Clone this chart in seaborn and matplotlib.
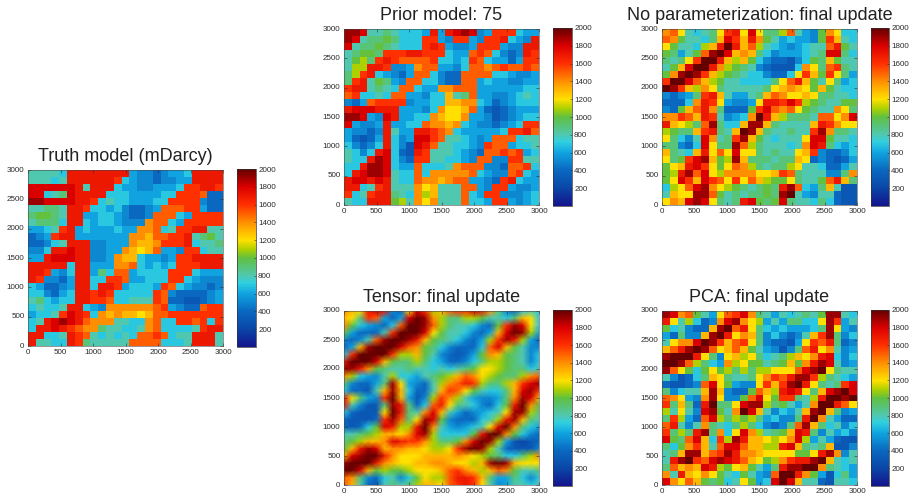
import numpy as np
import pandas as pd
import matplotlib
matplotlib.use("Agg")
import matplotlib.pyplot as plt
from matplotlib.colors import LinearSegmentedColormap
import seaborn as sns

plt.rcParams['font.family'] = ['Liberation Sans', 'DejaVu Sans']

# values in hundreds of mDarcy, top row is y=3000, steps of 125 m
truth = [
[8,8,8,8,7,17,17,17,17,17,17,17,17,6,5,5,4,5,6,6,7,17,17,17,17],
[8,8,8,7,8,17,17,17,17,17,17,16,7,6,5,5,4,5,5,6,6,17,17,17,17],
[18,18,18,18,18,18,17,8,17,17,17,7,6,6,5,5,6,6,6,7,16,16,17,17,16],
[18,18,7,8,9,18,17,17,17,17,7,7,7,6,6,6,6,7,7,16,16,16,15,4,4],
[19,19,18,18,18,18,17,17,16,7,8,7,7,6,6,6,7,7,16,16,16,16,5,4,4],
[8,8,9,9,8,17,17,16,7,7,6,7,5,4,4,5,6,15,15,15,16,16,6,4,4],
[9,10,10,9,8,17,17,6,6,7,7,6,5,4,4,5,15,15,15,7,6,16,16,16,16],
[8,9,9,9,7,17,17,7,6,7,7,6,5,5,5,14,15,15,7,6,16,16,16,16,16],
[6,6,7,8,16,17,6,7,6,6,6,7,6,6,14,14,15,7,8,16,16,17,17,8,8],
[4,5,6,16,17,17,6,6,6,6,6,6,6,14,14,13,15,15,16,16,17,8,9,10,8],
[4,4,5,7,8,17,17,17,5,5,6,6,6,14,13,13,14,16,16,16,17,7,8,8,9],
[5,5,7,17,17,18,17,17,5,5,6,6,14,13,12,13,15,6,6,5,16,16,7,8,8],
[6,6,17,18,18,18,17,17,5,5,6,14,13,13,7,6,6,5,6,16,16,17,17,17,17],
[17,17,17,17,17,7,17,17,6,6,6,14,14,15,7,6,7,6,7,16,16,16,17,17,17],
[17,17,16,6,5,7,17,17,6,9,7,15,15,6,7,7,7,7,16,16,16,7,6,6,6],
[17,16,5,5,4,6,17,17,7,7,16,16,15,6,6,7,7,7,16,16,7,6,5,5,5],
[7,6,4,4,5,6,17,17,7,17,17,16,6,7,7,7,6,16,15,7,6,5,5,4,5],
[7,7,5,4,6,7,17,17,16,17,16,7,7,7,7,7,16,15,5,4,4,4,4,5,6],
[8,9,7,6,7,7,17,17,16,16,15,7,7,8,8,8,16,15,4,4,3,3,4,5,6],
[7,8,7,7,8,17,17,7,6,5,14,14,14,14,14,14,15,16,6,5,4,4,15,16,16],
[6,7,7,8,16,18,17,16,7,14,13,14,13,13,12,13,15,15,16,16,16,16,16,16,16],
[7,8,17,18,19,18,17,15,14,14,14,8,8,7,7,14,15,7,7,16,16,15,16,7,16],
[7,17,17,18,17,16,15,14,14,9,8,8,7,7,8,14,15,7,7,7,7,8,16,17,17],
[17,17,7,7,8,17,16,15,8,7,8,7,8,7,15,15,16,15,7,8,8,17,17,17,8],
[17,8,8,7,7,17,16,9,8,8,8,8,8,15,15,15,15,7,7,7,8,17,17,17,8],
]
prior = [
[19,19,18,8,8,9,8,7,7,7,6,17,6,17,18,19,18,5,6,16,16,16,7,6,6],
[19,18,8,9,9,10,9,7,7,7,16,16,6,5,16,16,6,5,16,16,17,7,6,5,17],
[18,8,9,9,10,9,8,7,7,7,16,17,16,6,5,5,6,16,16,16,6,5,5,17,17],
[8,9,10,10,9,16,16,16,17,17,16,16,16,7,6,6,15,16,15,7,5,4,5,17,16],
[8,10,11,9,16,17,16,15,15,15,15,16,7,7,6,7,16,15,7,6,6,4,6,16,16],
[8,11,11,17,17,16,5,5,6,14,15,15,6,6,5,7,15,15,14,15,16,15,15,16,15],
[9,11,16,17,7,6,5,4,6,15,15,7,5,4,4,15,15,15,15,7,7,6,5,5,6],
[9,16,17,8,10,9,6,5,15,15,7,7,5,4,4,15,15,6,7,6,6,5,5,6,6],
[16,17,17,8,9,8,7,15,15,7,6,6,14,14,15,15,15,6,6,6,6,6,6,7,7],
[15,16,7,7,8,7,15,15,6,6,5,7,7,13,8,9,15,6,6,5,5,6,7,8,7],
[5,4,6,15,16,16,16,16,5,6,6,7,7,13,13,14,14,7,6,4,5,6,7,7,7],
[17,18,18,18,17,17,17,6,6,6,5,7,14,12,12,13,15,6,4,3,4,5,6,6,6],
[19,19,18,6,5,18,17,6,6,7,7,14,13,12,12,14,6,6,5,3,4,5,6,7,7],
[18,6,5,5,6,17,6,6,7,7,15,14,14,13,14,7,6,5,5,4,5,6,7,16,16],
[6,5,5,4,5,17,8,6,6,17,17,16,15,14,7,6,6,6,6,6,7,16,16,17,15],
[6,4,3,4,6,17,7,5,6,18,18,16,15,8,8,7,6,5,6,15,15,15,7,8,8],
[7,5,4,5,7,17,7,5,3,18,17,15,8,8,7,7,6,5,16,15,15,6,7,7,8],
[8,7,5,7,17,18,7,4,3,17,16,8,8,8,7,6,5,4,15,15,16,15,16,6,7],
[8,7,7,17,19,18,7,5,4,16,16,8,8,7,7,6,5,15,15,5,5,16,16,8,8],
[7,7,17,19,19,18,7,6,6,15,7,7,7,8,14,15,15,15,5,5,4,15,15,16,7],
[7,17,18,19,19,18,8,7,7,15,7,14,14,14,14,14,15,7,6,5,5,15,16,7,6],
[17,18,18,17,18,17,8,7,7,15,14,14,13,14,15,15,6,6,5,4,16,17,7,6,6],
[17,17,7,8,16,17,8,8,8,14,12,13,8,8,8,15,15,6,5,16,16,6,5,5,6],
[16,7,8,16,17,17,9,8,7,14,11,13,8,8,8,15,7,6,16,16,5,5,5,6,7],
[8,7,7,17,17,17,10,11,8,14,12,14,8,8,8,15,7,7,6,16,16,6,5,6,7],
]
no_param = [
[14,15,12,8,7,8,9,12,16,17,12,18,12,9,9,11,15,8,6,5,10,14,12,7,7],
[15,14,10,8,8,7,9,13,18,16,13,17,14,10,8,6,7,6,6,5,10,16,13,8,7],
[12,10,8,8,7,11,13,17,20,17,13,15,11,8,7,6,5,6,7,8,8,15,17,10,8],
[10,9,6,8,10,15,19,20,18,13,14,13,9,7,5,6,6,6,7,8,9,18,18,9,7],
[9,8,9,12,16,20,20,17,13,11,13,10,7,5,4,4,3,5,7,10,9,13,10,8,8],
[8,10,13,18,20,20,17,14,11,10,9,8,5,4,3,3,3,7,14,12,9,15,16,9,8],
[10,14,19,20,19,16,13,11,10,9,8,7,7,5,4,4,7,12,16,13,10,16,12,9,6],
[16,20,20,18,15,13,11,10,8,8,7,7,7,7,9,12,15,17,13,10,8,12,9,6,7],
[20,19,16,13,11,14,12,9,8,8,8,8,8,9,12,13,14,13,12,10,13,10,8,7,7],
[5,4,5,6,9,16,17,13,8,6,6,8,9,13,15,14,12,12,13,12,9,9,8,8,7],
[4,4,4,7,14,17,16,12,6,5,5,6,12,17,17,16,18,16,11,10,9,8,8,10,10],
[5,4,10,13,15,17,14,9,4,4,4,10,16,18,15,14,15,12,10,9,8,8,14,12,9],
[14,14,16,15,13,17,16,8,5,6,7,14,20,17,13,11,9,9,9,8,15,15,12,14,18],
[17,13,12,11,9,15,19,9,7,7,13,19,19,13,9,8,8,8,8,13,17,16,14,12,12],
[11,10,9,9,13,16,17,9,8,13,20,19,13,9,8,8,9,8,8,16,19,14,9,9,8],
[12,9,7,5,8,18,14,8,9,16,19,13,10,8,7,8,8,8,12,18,18,10,8,8,7],
[9,9,5,4,7,18,12,9,9,19,15,11,9,8,8,8,7,8,14,18,17,9,7,6,7],
[13,9,8,7,13,17,12,15,12,18,12,12,9,8,9,8,8,12,13,16,5,4,4,5,7],
[12,9,10,16,18,19,13,10,11,19,13,9,9,9,8,9,9,13,12,4,5,4,3,4,6],
[10,12,13,17,18,16,12,10,12,15,14,11,9,8,9,9,11,12,8,8,7,4,4,6,8],
[10,11,17,19,15,18,12,11,14,14,14,14,12,12,13,16,15,9,8,8,8,5,5,9,14],
[10,12,18,16,13,18,16,15,12,16,12,15,13,11,10,10,12,9,8,8,10,15,17,13,9],
[7,11,12,15,18,19,14,12,11,10,9,8,9,10,9,17,19,15,7,6,9,13,8,3,3],
[8,13,12,12,19,19,15,10,8,9,8,9,9,10,9,19,20,8,6,5,8,8,4,3,3],
[12,14,13,18,19,18,12,9,8,9,17,18,10,9,10,18,9,8,8,7,9,7,4,3,3],
]
tensor = [
[14,13,12,17,18,17,5,4,12,18,16,11,13,15,16,16,18,17,14,9,5,4,7,8,7],
[13,12,9,16,15,6,4,6,18,20,19,14,11,9,9,11,11,10,8,8,7,9,13,12,7],
[14,10,7,6,5,4,7,15,20,20,19,15,11,9,8,8,7,5,4,10,16,19,18,12,7],
[10,6,4,4,4,8,16,20,20,20,18,12,10,8,8,7,5,4,6,13,18,20,19,11,6],
[5,4,5,8,15,19,20,20,19,17,13,10,9,8,7,5,4,6,11,16,19,17,11,6,4],
[4,6,13,19,20,20,20,18,15,14,10,9,7,5,4,4,4,7,15,18,13,10,8,5,5],
[7,16,20,20,20,20,16,11,11,13,10,8,5,4,3,4,6,10,14,13,10,9,8,5,7],
[17,20,20,20,18,13,10,9,9,11,9,7,6,4,4,5,7,9,11,11,10,9,8,5,7],
[19,19,17,14,10,9,8,8,9,8,8,7,8,7,8,9,10,12,12,11,10,9,9,7,8],
[14,11,7,6,5,8,11,7,7,6,8,9,10,11,13,15,14,12,11,10,9,9,11,14,15],
[9,5,4,4,6,9,19,12,6,5,4,8,11,14,15,17,16,11,9,9,11,13,16,18,19],
[7,4,4,3,8,13,19,13,7,4,4,8,13,16,15,12,10,8,7,7,9,13,18,19,16],
[17,12,9,6,5,16,20,13,6,3,5,11,16,14,11,8,6,5,5,6,9,14,19,18,13],
[17,8,5,3,3,9,19,17,9,4,7,15,17,12,9,8,7,5,4,7,10,17,20,14,10],
[7,4,3,3,3,12,20,17,9,8,14,18,13,8,6,4,5,6,7,8,12,19,19,11,9],
[4,3,3,3,4,16,19,15,9,12,19,18,10,5,4,4,4,7,8,11,17,19,13,9,8],
[4,3,4,7,10,18,17,11,11,17,20,14,8,6,5,6,7,8,12,18,20,14,9,7,6],
[8,8,9,10,11,13,13,12,14,18,19,11,7,7,7,7,10,17,20,20,14,10,7,5,4],
[9,10,11,13,13,14,18,17,16,16,14,11,9,9,10,14,18,20,19,11,6,3,2,3,4],
[10,13,17,19,18,13,14,14,13,13,12,11,11,12,16,19,20,19,11,8,4,3,3,3,5],
[13,18,19,20,20,17,14,12,12,12,13,13,13,13,14,13,12,11,10,9,7,7,9,11,14],
[19,20,20,20,17,14,13,12,12,13,13,14,14,13,12,12,11,13,19,20,19,13,12,12,12],
[20,20,18,13,10,11,10,10,11,12,12,12,13,15,16,14,13,11,13,15,14,10,8,8,9],
[15,14,9,5,4,7,8,5,7,10,12,11,11,15,17,17,16,13,9,6,6,9,7,5,7],
[15,13,8,4,3,8,9,8,9,11,13,13,12,15,16,17,16,12,8,5,6,8,8,7,8],
]
pca = [
[19,18,14,15,10,8,6,12,15,16,18,14,9,8,6,8,7,8,9,8,10,19,19,8,7],
[17,12,8,11,7,4,5,14,18,19,14,12,11,6,8,6,9,9,7,7,12,19,16,6,8],
[10,7,8,5,4,4,13,19,20,15,17,12,9,7,6,7,6,6,6,7,9,19,12,6,5],
[6,4,9,5,5,13,19,20,17,12,14,13,9,5,7,5,4,5,8,13,16,19,9,5,7],
[8,12,14,14,18,20,19,16,13,15,16,12,9,5,4,4,3,6,12,16,15,17,9,4,5],
[13,15,17,19,20,19,15,12,13,15,13,10,8,6,5,3,5,9,15,17,12,14,8,5,6],
[19,20,20,20,17,12,9,5,12,13,11,12,9,7,8,9,11,13,12,14,17,18,7,5,7],
[20,20,19,15,11,9,7,6,14,11,12,10,10,8,9,10,13,10,14,17,19,18,8,5,6],
[19,15,12,10,7,10,12,10,11,9,11,9,11,11,12,12,12,15,18,19,20,12,9,8,8],
[8,5,3,4,7,9,13,12,9,8,8,9,12,14,16,15,17,19,19,16,11,9,8,7,6],
[4,3,3,4,5,15,18,12,10,6,5,5,12,16,13,16,19,20,17,12,9,8,9,16,18],
[9,5,7,8,8,13,19,13,5,4,4,10,15,13,11,17,18,17,12,9,13,18,19,20,18],
[15,14,12,6,5,14,19,12,5,5,10,15,18,12,10,16,16,9,8,11,17,20,20,19,20],
[16,9,13,9,4,17,20,9,9,12,18,19,19,11,9,10,8,6,8,14,20,20,17,15,12],
[11,8,12,8,5,18,19,10,8,14,20,18,13,8,5,7,6,8,13,19,20,13,9,5,6],
[9,16,11,6,4,15,18,11,9,11,10,11,9,6,7,5,5,9,17,20,14,8,6,4,4],
[15,17,8,5,8,14,9,8,7,9,11,9,7,5,4,5,9,15,19,13,9,7,8,5,7],
[16,9,11,9,17,19,9,14,7,12,18,14,11,8,9,10,13,18,17,9,5,8,6,7,5],
[18,10,9,15,18,13,7,16,11,19,17,13,13,12,11,12,14,18,11,6,8,6,4,3,3],
[9,7,10,14,16,13,8,15,18,18,15,13,13,11,11,17,18,13,9,8,9,13,3,3,5],
[8,9,13,19,19,13,15,16,19,17,14,14,13,12,12,12,12,10,10,12,17,19,14,5,8],
[8,17,19,20,16,15,18,19,18,17,15,13,12,10,11,14,16,17,17,19,20,13,8,7,8],
[9,15,13,14,13,18,17,11,10,12,13,10,8,6,9,17,19,19,20,20,14,9,8,7,6],
[14,8,17,13,12,14,12,10,8,7,10,8,6,5,15,20,20,17,14,10,6,3,7,9,6],
[18,14,12,15,13,10,9,10,7,8,12,10,6,7,18,20,18,13,8,8,4,3,8,8,7],
]

titles = ["Truth model (mDarcy)", "Prior model: 75", "No parameterization: final update",
          "Tensor: final update", "PCA: final update"]
shadings = ["flat", "flat", "flat", "gouraud", "flat"]
tick_labels = [0, 500, 1000, 1500, 2000, 2500, 3000]
cbar_ticks = [200, 400, 600, 800, 1000, 1200, 1400, 1600, 1800, 2000]

# the muted jet of the picture
stops = [(0.0, "#14148c"), (0.1, "#0a46a8"), (0.2, "#0a68c0"), (0.3, "#10a4e0"),
         (0.36, "#30d0e0"), (0.4, "#50c8b0"), (0.5, "#60c040"), (0.55, "#b0d000"),
         (0.6, "#ffe000"), (0.7, "#ff9000"), (0.8, "#ff3000"), (0.9, "#dc0000"),
         (1.0, "#640000")]
perm_cmap = LinearSegmentedColormap.from_list("perm", stops)

W, H = 921, 498
# left, right, top, bottom of each map in pixels, then left, right of the colorbar
boxes = [(28, 223, 170, 346, 237, 256),
         (344, 539, 29, 205, 553, 572),
         (662, 857, 29, 205, 871, 889),
         (344, 539, 311, 485, 553, 572),
         (662, 857, 311, 485, 871, 889)]
text_col = "#2b2b2b"

def rect(l, r, t, b):
    return [l / W, 1 - b / H, (r - l) / W, (b - t) / H]

fig = plt.figure(figsize=(W / 100, H / 100), dpi=100)

for vals, title, box, shading in zip([truth, prior, no_param, tensor, pca], titles, boxes, shadings):
    l, r, t, b, cl, cr = box
    ax = fig.add_axes(rect(l, r, t, b))
    cax = fig.add_axes(rect(cl, cr, t - 1, b + 1))
    df = pd.DataFrame(np.array(vals) * 100)
    sns.heatmap(df, vmin=0, vmax=2000, cmap=perm_cmap, ax=ax, cbar_ax=cax, shading=shading)
    n = 24 if shading == "gouraud" else 25
    ax.set_xlim(0, n)
    ax.set_ylim(n, 0)
    ax.set_xticks(np.linspace(0, n, 7))
    ax.set_xticklabels(tick_labels, rotation=0)
    ax.set_yticks(np.linspace(0, n, 7))
    ax.set_yticklabels(tick_labels[::-1], rotation=0)
    ax.tick_params(labelsize=5.8, length=2, width=0.4, direction="in", pad=2.5,
                   colors=text_col, top=True, right=True)
    for s in ax.spines.values():
        s.set_visible(True)
        s.set_linewidth(0.4)
        s.set_color("#444444")
    ax.set_title(title, fontsize=13, color="#222222", pad=6.5)

    cax.set_yticks(cbar_ticks)
    cax.tick_params(labelsize=5.8, length=1.5, width=0.4, direction="in", pad=1.5, colors=text_col)
    cb = ax.collections[0].colorbar
    cb.outline.set_visible(True)
    cb.outline.set_linewidth(0.5)
    cb.outline.set_edgecolor("#333333")

fig.savefig("out.png", dpi=100)
